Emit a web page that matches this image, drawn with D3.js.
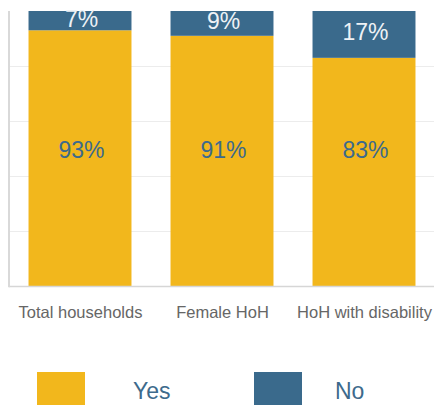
<!DOCTYPE html>
<html><head><meta charset="utf-8">
<script src="https://cdn.jsdelivr.net/npm/d3@7"></script>
<style>
html,body{margin:0;padding:0;background:#fff;}
svg{display:block;}
text{font-family:"Liberation Sans",Arial,Helvetica,sans-serif;}
</style></head>
<body>
<svg id="chart" width="434" height="406"></svg>
<script>
const categories = ["Total households", "Female HoH", "HoH with disability"];
const yesValues = [93, 91, 83];
const noValues = [7, 9, 17];
const gridTicks = [20, 40, 60, 80];
const seriesNames = ["Yes", "No"];

const colors = {Yes: "#F2B71C", No: "#3A6A8C"};
const svg = d3.select("#chart");

const x = d3.scaleBand().domain(categories).range([9, 435]).paddingInner(0.275).paddingOuter(0.1375);
const y = d3.scaleLinear().domain([0, 100]).range([286.5, 11]);

// gridlines
svg.append("g").selectAll("line").data(gridTicks).join("line")
  .attr("x1", 9).attr("x2", 434)
  .attr("y1", d => Math.round(y(d)) + 0.5).attr("y2", d => Math.round(y(d)) + 0.5)
  .attr("stroke", "#ececec").attr("stroke-width", 1);

const data = categories.map((c, i) => ({cat: c, Yes: yesValues[i], No: noValues[i]}));
const stack = d3.stack().keys(seriesNames)(data);

svg.append("g").selectAll("g").data(stack).join("g")
  .attr("fill", d => colors[d.key])
  .selectAll("rect").data(d => d).join("rect")
  .attr("x", d => x(d.data.cat))
  .attr("width", x.bandwidth())
  .attr("y", d => y(d[1]))
  .attr("height", d => y(d[0]) - y(d[1]));

// axes lines
svg.append("line").attr("x1", 9).attr("x2", 434).attr("y1", y(0)).attr("y2", y(0))
  .attr("stroke", "#d6d6d6").attr("stroke-width", 1.5);
svg.append("line").attr("x1", 9).attr("x2", 9).attr("y1", y(100)).attr("y2", y(0) + 0.75)
  .attr("stroke", "#d9d9d9").attr("stroke-width", 2);

// value labels
svg.append("g").selectAll("text").data(data).join("text")
  .attr("x", d => x(d.cat) + x.bandwidth() / 2 + 1.5)
  .attr("y", y(50) + 1.5)
  .attr("dy", "0.35em")
  .attr("text-anchor", "middle")
  .attr("font-size", "23px")
  .attr("fill", "#3D6A8C")
  .text(d => d.Yes + "%");

svg.append("g").selectAll("text").data(data).join("text")
  .attr("x", d => x(d.cat) + x.bandwidth() / 2 + 1.5)
  .attr("y", d => y(100 - d.No / 2) - 2)
  .attr("dy", "0.35em")
  .attr("text-anchor", "middle")
  .attr("font-size", "23px")
  .attr("fill", "#EEF2F6")
  .text(d => d.No + "%");

// category labels
svg.append("g").selectAll("text").data(categories).join("text")
  .attr("x", d => x(d) + x.bandwidth() / 2 + 0.5)
  .attr("y", 317.5)
  .attr("text-anchor", "middle")
  .attr("font-size", "16.5px")
  .attr("fill", "#666")
  .text(d => d);

// legend
const legendX = [37, 254];
const legendTextX = [133, 335];
seriesNames.forEach((s, i) => {
  svg.append("rect").attr("x", legendX[i]).attr("y", 372).attr("width", 48).attr("height", 33)
    .attr("fill", colors[s]);
  svg.append("text").attr("x", legendTextX[i]).attr("y", 398.5)
    .attr("font-size", "23px").attr("fill", "#3D6A8C").text(s);
});
</script>
</body></html>
